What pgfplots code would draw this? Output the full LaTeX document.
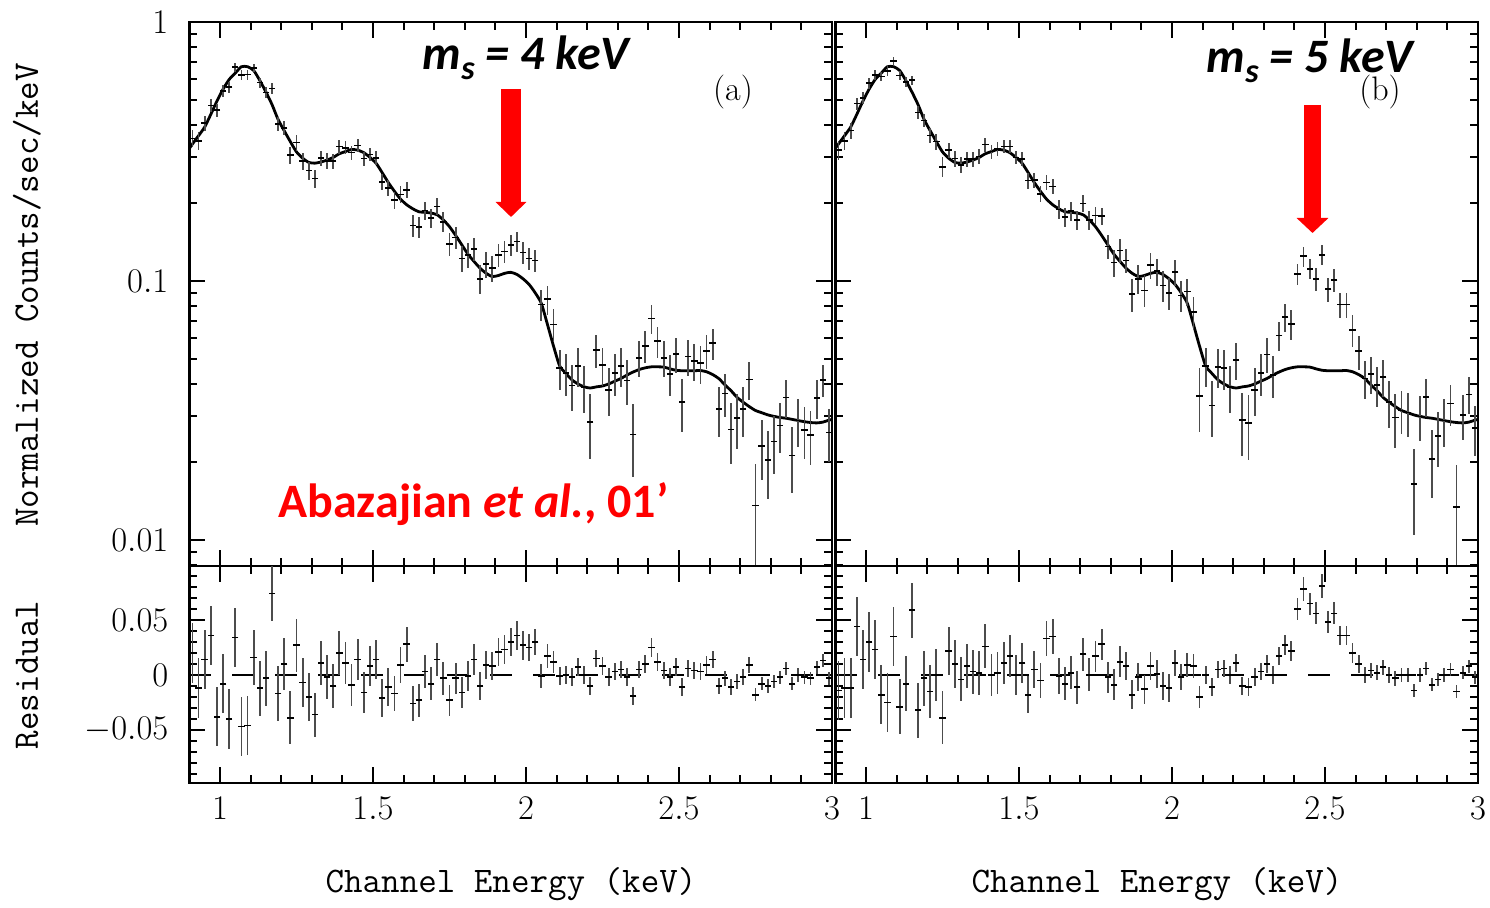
\documentclass[border=0pt]{standalone}
\usepackage{fontspec}
\usepackage{pgfplots}
\pgfplotsset{compat=1.18}
\usepackage{pgfplotstable}
\usetikzlibrary{arrows.meta}
\newfontfamily\carlito{Carlito}

\pgfplotstableread{
E M
0.90 0.325
0.91 0.338
0.93 0.364
0.95 0.393
0.97 0.44
0.99 0.495
1.01 0.55
1.03 0.60
1.05 0.635
1.07 0.672
1.09 0.672
1.11 0.65
1.13 0.595
1.15 0.537
1.17 0.48
1.19 0.42
1.21 0.38
1.23 0.345
1.25 0.315
1.27 0.298
1.29 0.287
1.31 0.285
1.33 0.288
1.35 0.293
1.37 0.30
1.39 0.31
1.41 0.316
1.43 0.322
1.45 0.32
1.47 0.313
1.49 0.30
1.51 0.285
1.53 0.262
1.55 0.24
1.57 0.222
1.59 0.207
1.61 0.197
1.63 0.19
1.65 0.185
1.67 0.184
1.69 0.183
1.71 0.18
1.73 0.172
1.75 0.162
1.77 0.15
1.79 0.138
1.81 0.127
1.83 0.119
1.85 0.112
1.87 0.107
1.89 0.104
1.91 0.105
1.93 0.107
1.95 0.108
1.97 0.106
1.99 0.102
2.01 0.097
2.03 0.09
2.05 0.082
2.07 0.068
2.09 0.056
2.11 0.047
2.13 0.044
2.15 0.0415
2.17 0.040
2.19 0.039
2.21 0.0386
2.23 0.039
2.25 0.0393
2.27 0.040
2.29 0.041
2.31 0.042
2.33 0.0433
2.35 0.0445
2.37 0.0455
2.39 0.0462
2.41 0.0466
2.43 0.0466
2.45 0.0465
2.47 0.0458
2.49 0.0452
2.51 0.045
2.53 0.045
2.55 0.045
2.57 0.0451
2.59 0.0446
2.61 0.0435
2.63 0.042
2.65 0.0397
2.67 0.0377
2.69 0.0355
2.71 0.034
2.73 0.0327
2.75 0.0316
2.77 0.031
2.79 0.0304
2.81 0.030
2.83 0.0297
2.85 0.0295
2.87 0.0292
2.89 0.0289
2.91 0.0286
2.93 0.0284
2.95 0.0283
2.97 0.0285
2.99 0.029
3.00 0.0292
}\modelT

\pgfplotstableread{
E F e R
0.91 0.355 0.027 0.020
0.93 0.348 0.027 -0.012
0.95 0.407 0.027 0.014
0.97 0.476 0.027 0.036
0.99 0.457 0.027 -0.038
1.01 0.542 0.027 -0.008
1.03 0.560 0.027 -0.040
1.05 0.669 0.027 0.034
1.07 0.625 0.027 -0.047
1.09 0.626 0.027 -0.046
1.11 0.666 0.025 0.016
1.13 0.583 0.025 -0.012
1.15 0.534 0.025 -0.003
1.17 0.554 0.025 0.074
1.19 0.403 0.025 -0.017
1.21 0.390 0.024 0.010
1.23 0.306 0.024 -0.039
1.25 0.342 0.024 0.027
1.27 0.291 0.022 -0.007
1.29 0.267 0.022 -0.020
1.31 0.249 0.020 -0.036
1.33 0.299 0.020 0.011
1.35 0.291 0.020 -0.002
1.37 0.290 0.020 -0.010
1.39 0.330 0.020 0.020
1.41 0.327 0.019 0.011
1.43 0.313 0.019 -0.009
1.45 0.334 0.019 0.014
1.47 0.297 0.019 -0.016
1.49 0.308 0.018 0.008
1.51 0.299 0.018 0.014
1.53 0.241 0.017 -0.021
1.55 0.229 0.017 -0.011
1.57 0.205 0.016 -0.017
1.59 0.216 0.016 0.009
1.61 0.225 0.016 0.028
1.63 0.164 0.016 -0.026
1.65 0.162 0.015 -0.023
1.67 0.187 0.015 0.003
1.69 0.175 0.015 -0.008
1.71 0.194 0.015 0.014
1.73 0.169 0.015 -0.003
1.75 0.139 0.014 -0.023
1.77 0.147 0.014 -0.003
1.79 0.122 0.014 -0.016
1.81 0.126 0.014 -0.001
1.83 0.133 0.014 0.014
1.85 0.102 0.013 -0.010
1.87 0.116 0.013 0.009
1.89 0.112 0.013 0.008
1.91 0.126 0.013 0.021
1.93 0.130 0.013 0.023
1.95 0.138 0.013 0.030
1.97 0.142 0.013 0.036
1.99 0.129 0.013 0.027
2.01 0.122 0.012 0.025
2.03 0.120 0.012 0.030
2.05 0.081 0.011 -0.001
2.07 0.085 0.011 0.017
2.09 0.068 0.010 0.012
2.11 0.046 0.008 -0.001
2.13 0.044 0.008 0.000
2.15 0.0395 0.008 -0.002
2.17 0.047 0.008 0.007
2.19 0.039 0.008 0.000
2.21 0.0286 0.008 -0.010
2.23 0.054 0.008 0.015
2.25 0.0473 0.008 0.008
2.27 0.038 0.008 -0.002
2.29 0.044 0.008 0.003
2.31 0.047 0.008 0.005
2.33 0.0413 0.008 -0.002
2.35 0.0255 0.008 -0.019
2.37 0.0505 0.008 0.005
2.39 0.0562 0.008 0.010
2.41 0.0716 0.009 0.025
2.43 0.0586 0.008 0.012
2.45 0.0505 0.008 0.004
2.47 0.0438 0.008 -0.002
2.49 0.0522 0.008 0.007
2.51 0.034 0.008 -0.011
2.53 0.051 0.008 0.006
2.55 0.049 0.008 0.004
2.57 0.0481 0.008 0.003
2.59 0.0536 0.008 0.009
2.61 0.0575 0.008 0.014
2.63 0.032 0.007 -0.010
2.65 0.0367 0.007 -0.003
2.67 0.0267 0.007 -0.011
2.69 0.0295 0.007 -0.006
2.71 0.032 0.007 -0.002
2.73 0.0417 0.007 0.009
2.75 0.0136 0.006 -0.018
2.77 0.023 0.006 -0.008
2.79 0.0204 0.006 -0.010
2.81 0.024 0.006 -0.006
2.83 0.0277 0.006 -0.002
2.85 0.0355 0.006 0.006
2.87 0.0212 0.006 -0.008
2.89 0.0289 0.006 0.000
2.91 0.0266 0.006 -0.002
2.93 0.0254 0.006 -0.003
2.95 0.0353 0.006 0.007
2.97 0.0415 0.006 0.013
2.99 0.026 0.006 -0.003
}\dataA

\pgfplotstableread{
E F e R
0.91 0.321 0.027 -0.014
0.93 0.348 0.027 -0.012
0.95 0.381 0.027 -0.012
0.97 0.484 0.027 0.044
0.99 0.509 0.027 0.014
1.01 0.580 0.027 0.030
1.03 0.623 0.027 0.023
1.05 0.617 0.027 -0.018
1.07 0.647 0.027 -0.025
1.09 0.707 0.027 0.035
1.11 0.621 0.025 -0.029
1.13 0.587 0.025 -0.008
1.15 0.596 0.025 0.059
1.17 0.448 0.025 -0.032
1.19 0.417 0.025 -0.003
1.21 0.365 0.024 -0.015
1.23 0.345 0.024 0.000
1.25 0.276 0.024 -0.039
1.27 0.320 0.022 0.022
1.29 0.297 0.022 0.010
1.31 0.281 0.020 -0.004
1.33 0.296 0.020 0.008
1.35 0.296 0.020 0.003
1.37 0.302 0.020 0.002
1.39 0.336 0.020 0.026
1.41 0.316 0.019 0.000
1.43 0.324 0.019 0.002
1.45 0.331 0.019 0.011
1.47 0.330 0.019 0.017
1.49 0.300 0.018 0.000
1.51 0.296 0.018 0.011
1.53 0.244 0.017 -0.018
1.55 0.245 0.017 0.005
1.57 0.217 0.016 -0.005
1.59 0.240 0.016 0.033
1.61 0.232 0.016 0.035
1.63 0.189 0.016 -0.001
1.65 0.177 0.015 -0.008
1.67 0.186 0.015 0.002
1.69 0.172 0.015 -0.011
1.71 0.199 0.015 0.019
1.73 0.172 0.015 0.000
1.75 0.179 0.014 0.017
1.77 0.178 0.014 0.028
1.79 0.136 0.014 -0.002
1.81 0.118 0.014 -0.009
1.83 0.131 0.014 0.012
1.85 0.120 0.013 0.008
1.87 0.089 0.013 -0.018
1.89 0.102 0.013 -0.002
1.91 0.092 0.013 -0.013
1.93 0.115 0.013 0.008
1.95 0.109 0.013 0.001
1.97 0.096 0.013 -0.010
1.99 0.090 0.013 -0.012
2.01 0.108 0.012 0.011
2.03 0.088 0.012 -0.002
2.05 0.091 0.011 0.009
2.07 0.076 0.011 0.008
2.09 0.036 0.010 -0.020
2.11 0.047 0.008 0.000
2.13 0.033 0.008 -0.011
2.15 0.0465 0.008 0.005
2.17 0.046 0.008 0.006
2.19 0.039 0.008 0.000
2.21 0.0496 0.008 0.011
2.23 0.029 0.008 -0.010
2.25 0.0283 0.008 -0.011
2.27 0.038 0.008 -0.002
2.29 0.044 0.008 0.003
2.31 0.052 0.008 0.010
2.33 0.0433 0.008 0.000
2.35 0.0615 0.008 0.017
2.37 0.0725 0.009 0.027
2.39 0.0682 0.009 0.022
2.41 0.1066 0.010 0.060
2.43 0.1246 0.011 0.078
2.45 0.1115 0.010 0.065
2.47 0.1018 0.010 0.056
2.49 0.1262 0.011 0.081
2.51 0.093 0.010 0.048
2.53 0.101 0.010 0.056
2.55 0.081 0.009 0.036
2.57 0.0811 0.009 0.036
2.59 0.0646 0.009 0.020
2.61 0.0535 0.008 0.010
2.63 0.042 0.007 0.000
2.65 0.0437 0.007 0.004
2.67 0.0397 0.007 0.002
2.69 0.0425 0.007 0.007
2.71 0.034 0.007 0.000
2.73 0.0297 0.007 -0.003
2.75 0.0316 0.006 0.000
2.77 0.031 0.006 0.000
2.79 0.0164 0.006 -0.014
2.81 0.030 0.006 0.000
2.83 0.0357 0.006 0.006
2.85 0.0205 0.006 -0.009
2.87 0.0252 0.006 -0.004
2.89 0.0289 0.006 0.000
2.91 0.0336 0.006 0.005
2.93 0.0134 0.006 -0.015
2.95 0.0303 0.006 0.002
2.97 0.0365 0.006 0.008
2.99 0.027 0.006 -0.002
}\dataB

\pgfplotsset{
  every axis/.append style={scale only axis, width=321.3pt, xmin=0.9, xmax=3, anchor=north west,
    axis line style={line width=1.3pt}, every tick/.append style={line width=1pt, black},
    tick align=inside, major tick length=8pt, minor tick length=4pt,
    xtick={1,1.5,2,2.5,3},
    minor xtick={0.9,1.1,1.2,1.3,1.4,1.6,1.7,1.8,1.9,2.1,2.2,2.3,2.4,2.6,2.7,2.8,2.9},
    xtick pos=both, ytick pos=both,
    tick label style={font=\fontsize{18}{18}\selectfont},
    yticklabel style={xshift=-7pt}, xticklabel style={yshift=-3.5pt}},
  errs/.style={black, only marks, mark=-, mark size=1.6pt, mark options={line width=0.8pt, black},
    error bars/y dir=both, error bars/y explicit, error bars/error mark=none,
    error bars/error bar style={line width=0.9pt, black!70}},
}

\begin{document}
\begin{tikzpicture}
\path[use as bounding box] (0pt,0pt) rectangle (745pt,-454pt);

% left top
\begin{axis}[at={(94.7pt,-11pt)}, height=272pt, ymode=log, ymin=0.00793, ymax=1,
  ytick={0.01,0.1,1},
  minor ytick={0.008,0.009,0.02,0.03,0.04,0.05,0.06,0.07,0.08,0.09,0.2,0.3,0.4,0.5,0.6,0.7,0.8,0.9},
  xticklabels={}, yticklabels={$0.01$,$0.1$,$1$}]
\addplot[black, line width=1.4pt, smooth, tension=0.4] table[x=E, y=M] {\modelT};
\addplot[errs] table[x=E, y=F, y error=e] {\dataA};
\end{axis}
% left residual
\begin{axis}[at={(94.7pt,-283pt)}, height=108.5pt, ymin=-0.0982, ymax=0.0991,
  ytick={-0.05,0,0.05}, scaled y ticks=false,
  minor ytick={-0.09,-0.08,-0.07,-0.06,-0.04,-0.03,-0.02,-0.01,0.01,0.02,0.03,0.04,0.06,0.07,0.08,0.09},
  yticklabels={$-0.05$,$0$,$0.05$}]
\addplot[black, line width=0.9pt, dash pattern=on 11pt off 10.5pt] coordinates {(0.9,0) (3,0)};
\addplot[errs] table[x=E, y=R, y error=e] {\dataA};
\end{axis}
% right top
\begin{axis}[at={(417.7pt,-11pt)}, height=272pt, ymode=log, ymin=0.00793, ymax=1,
  ytick={0.01,0.1,1},
  minor ytick={0.008,0.009,0.02,0.03,0.04,0.05,0.06,0.07,0.08,0.09,0.2,0.3,0.4,0.5,0.6,0.7,0.8,0.9},
  xticklabels={}, yticklabels={}]
\addplot[black, line width=1.4pt, smooth, tension=0.4] table[x=E, y=M] {\modelT};
\addplot[errs] table[x=E, y=F, y error=e] {\dataB};
\end{axis}
% right residual
\begin{axis}[at={(417.7pt,-283pt)}, height=108.5pt, ymin=-0.0982, ymax=0.0991,
  ytick={-0.05,0,0.05}, scaled y ticks=false,
  minor ytick={-0.09,-0.08,-0.07,-0.06,-0.04,-0.03,-0.02,-0.01,0.01,0.02,0.03,0.04,0.06,0.07,0.08,0.09},
  yticklabels={}]
\addplot[black, line width=0.9pt, dash pattern=on 11pt off 10.5pt] coordinates {(0.9,0) (3,0)};
\addplot[errs] table[x=E, y=R, y error=e] {\dataB};
\end{axis}

% annotations
\draw[red, line width=10pt, -{Triangle[width=15pt, length=7.5pt]}] (255.5pt,-44.5pt) -- (255.5pt,-108.5pt);
\draw[red, line width=8.5pt, -{Triangle[width=15.5pt, length=7.5pt]}] (656.25pt,-52.5pt) -- (656.25pt,-116.5pt);
\node[anchor=base, inner sep=0pt, font=\carlito\bfseries\itshape\fontsize{24}{24}\selectfont] at (263pt,-35pt)
  {m\raisebox{-5pt}{\fontsize{17}{17}\selectfont s} = 4 keV};
\node[anchor=base, inner sep=0pt, font=\carlito\bfseries\itshape\fontsize{24}{24}\selectfont] at (655pt,-36.5pt)
  {m\raisebox{-5pt}{\fontsize{17}{17}\selectfont s} = 5 keV};
\node[font=\fontsize{17}{17}\selectfont] at (366.5pt,-46pt) {(a)};
\node[font=\fontsize{17}{17}\selectfont] at (690pt,-46pt) {(b)};
\node[anchor=base west, inner sep=0pt, text=red, font=\carlito\bfseries\fontsize{24}{24}\selectfont] at (139pt,-259pt)
  {Abazajian \textit{et al.}, 01’};
\node[rotate=90, font=\ttfamily\fontsize{18}{18}\selectfont] at (13.5pt,-147.5pt) {Normalized Counts/sec/keV};
\node[rotate=90, font=\ttfamily\fontsize{18}{18}\selectfont] at (13.5pt,-337.5pt) {Residual};
\node[font=\ttfamily\fontsize{18}{18}\selectfont] at (255.5pt,-442pt) {Channel Energy (keV)};
\node[font=\ttfamily\fontsize{18}{18}\selectfont] at (578.5pt,-442pt) {Channel Energy (keV)};
\end{tikzpicture}
\end{document}
